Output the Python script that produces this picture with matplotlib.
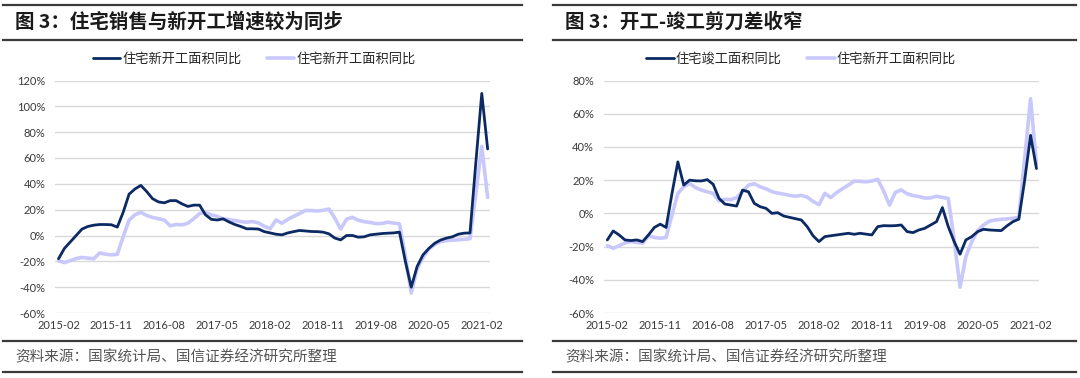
import pandas as pd
import matplotlib
matplotlib.use('Agg')
import matplotlib.pyplot as plt
from matplotlib.lines import Line2D

plt.rcParams['font.family'] = ['Noto Sans CJK SC', 'DejaVu Sans']

# monthly points, 2015-02 .. 2021-03 (cumulative yoy, %)
months = pd.period_range('2015-02', '2021-03', freq='M').strftime('%Y-%m').tolist()

sales_yoy = [-18, -10, -5, 0, 5, 7, 8, 8.5, 8.5, 8.3,
             6.5, 18, 32, 36, 38.8, 34, 28.5, 26, 25.3, 27,
             27, 24.5, 22.5, 23.5, 23.5, 16, 12.5, 12, 12.9, 10.5,
             8.5, 7, 5.2, 5.2, 5, 3, 2, 1, 0.5, 2,
             3, 3.9, 3.5, 3.1, 3, 2.6, 1.3, -2, -3.4, 0,
             0, -1.3, -1, 0.5, 1, 1.5, 1.8, 2, 2.6, -20,
             -40, -24, -15, -10, -6, -3.5, -2, -1, 1, 1.8,
             2, 57, 110, 67]

starts_yoy = [-19.5, -21, -19.5, -17.8, -17, -17.5, -18, -13.5, -14.5, -15,
              -14.5, -1, 12, 16, 18, 15.5, 14, 13, 12, 7.5,
              8.5, 8.2, 9.5, 13, 17, 17.8, 16, 14.8, 13, 12.2,
              11.6, 10.8, 10.3, 10.8, 9.8, 7.2, 5.2, 12, 9.5, 12.5,
              14.8, 17, 19.4, 19.3, 19, 19.5, 20.5, 13.5, 5, 12.6,
              14.1, 11.8, 10.7, 10.1, 9.2, 9.3, 10.3, 9.6, 9, -16,
              -44.5, -26, -17, -10.5, -7, -4.7, -4, -3.6, -3.3, -3,
              -2.5, 33, 69, 29.5]

completed_yoy = [-16, -10.6, -13, -16, -16.4, -16, -17, -13, -8.5, -6.5,
                 -8.5, 12, 31, 17, 20, 19.6, 19.5, 20.3, 17.5, 9,
                 5.6, 5, 4.4, 14, 13, 6, 4, 3, 0, 0.4,
                 -1.6, -2.4, -3.2, -4, -8, -13.5, -17, -14, -13.5, -13,
                 -12.5, -12, -12.6, -12, -12.5, -13, -8, -7.4, -7.5, -7.4,
                 -7, -11, -11.6, -10, -9, -7, -5, 3.5, -8, -17,
                 -24.6, -16, -14, -11, -9.6, -10, -10.2, -10.4, -7.5, -5,
                 -3.5, 20, 47, 27]

left_title = '图 3：住宅销售与新开工增速较为同步'
right_title = '图 3：开工-竣工剪刀差收窄'
source_note = '资料来源：国家统计局、国信证券经济研究所整理'
left_names = ['住宅新开工面积同比', '住宅新开工面积同比']
right_names = ['住宅竣工面积同比', '住宅新开工面积同比']

DARK = '#0b2a63'
LIGHT = '#c8c8fa'
GRID = '#d9d9d9'
TXT = '#3a3a3a'

W, H = 1080, 378
fig = plt.figure(figsize=(W / 100, H / 100), dpi=100)


def rect(left, top, width, height):
    return [left / W, 1 - (top + height) / H, width / W, height / H]


def hline(x0, x1, y, lw=1.6, color='#3a3a3a'):
    fig.add_artist(Line2D([x0 / W, x1 / W], [1 - y / H, 1 - y / H],
                          transform=fig.transFigure, color=color, lw=lw))


def panel(x_left, dark_vals, light_vals, names, ylim, title, legend_cx, rule_x):
    ax = fig.add_axes(rect(x_left, 80.5, 435, 232.5))
    x = list(range(len(months)))
    l2, = ax.plot(x, light_vals, color=LIGHT, lw=2.6, solid_joinstyle='round',
                  solid_capstyle='round', zorder=2)
    l1, = ax.plot(x, dark_vals, color=DARK, lw=2.0, solid_joinstyle='round',
                  solid_capstyle='round', zorder=3)
    ax.set_xlim(-0.6, 73.4)
    ax.set_ylim(*ylim)
    yt = list(range(ylim[0], ylim[1] + 1, 20))
    ax.set_yticks(yt)
    ax.set_yticklabels([f'{v}%' for v in yt])
    xt = list(range(0, len(months), 9))
    ax.set_xticks(xt)
    ax.set_xticklabels([months[i] for i in xt])
    for lab in ax.get_xticklabels() + ax.get_yticklabels():
        lab.set_family(['Lato', 'DejaVu Sans'])
        lab.set_fontsize(8)
        lab.set_color(TXT)
    ax.tick_params(length=0)
    ax.tick_params(axis='y', pad=7)
    ax.tick_params(axis='x', pad=5)
    ax.grid(axis='y', color=GRID, lw=1.0)
    ax.set_axisbelow(True)
    for s in ax.spines.values():
        s.set_visible(False)

    fig.legend([l1, l2], names, loc='center', ncol=2, frameon=False,
               bbox_to_anchor=(legend_cx / W, 1 - 59 / H), fontsize=9.5,
               handlelength=2.1, handletextpad=0.15, columnspacing=1.9,
               labelcolor='#262626')

    fig.text((rule_x[0] + 12) / W, 1 - 22 / H, title, fontsize=14, fontweight='bold',
             color='#1a1a1a', va='center', ha='left')
    fig.text((rule_x[0] + 12) / W, 1 - 357 / H, source_note, fontsize=10.5,
             color='#555555', va='center', ha='left')
    hline(rule_x[0], rule_x[1], 5)
    hline(rule_x[0], rule_x[1], 40)
    hline(rule_x[0], rule_x[1], 341)
    hline(rule_x[0], rule_x[1], 372)


panel(55, sales_yoy, starts_yoy, left_names, (-60, 120), left_title, 254, (3, 522))
panel(603.8, completed_yoy, starts_yoy, right_names, (-60, 80), right_title, 801, (553, 1076))

fig.savefig('out.png', dpi=100)
